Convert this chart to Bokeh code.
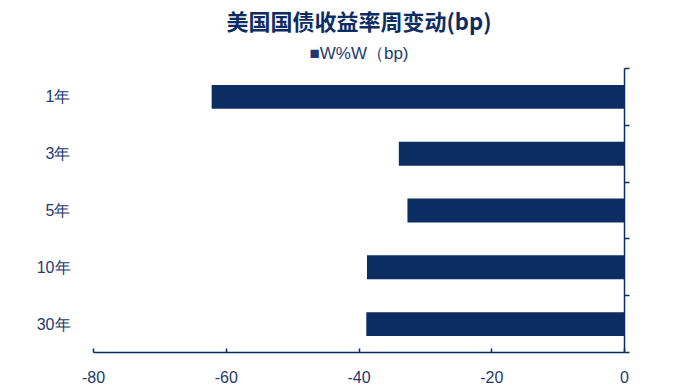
from bokeh.plotting import figure
from bokeh.models import (Range1d, LinearAxis, FixedTicker, Title, ColumnDataSource)
from bokeh.embed import file_html
from bokeh.resources import INLINE

title_text = "美国国债收益率周变动(bp)"
series_name = "W%W（bp)"
categories = ["1年", "3年", "5年", "10年", "30年"]
values = [-62.2, -34.0, -32.7, -38.8, -38.9]
x_ticks = [-80, -60, -40, -20, 0]

NAVY = "#0c2d62"
TXT = "#1f3a6e"

n = len(categories)
ypos = [n - i - 0.5 for i in range(n)]
src = ColumnDataSource(dict(y=ypos, val=values))

p = figure(width=665, height=389, output_backend="svg", toolbar_location=None,
           y_range=Range1d(0, n), x_range=Range1d(-80, 0),
           min_border_left=93, min_border_right=41, min_border_top=68,
           min_border_bottom=37)
p.outline_line_color = None
p.grid.grid_line_color = None
p.background_fill_color = "white"

r = p.hbar(y="y", left=0, right="val", height=0.42, source=src,
           fill_color=NAVY, line_color=None)

# bottom axis
xa = p.xaxis[0]
xa.ticker = FixedTicker(ticks=x_ticks)
xa.major_label_overrides = {t: str(t) for t in x_ticks}
xa.axis_line_color = NAVY
xa.axis_line_width = 1.5
xa.major_tick_line_color = NAVY
xa.major_tick_line_width = 1.5
xa.major_tick_in = 4
xa.major_tick_out = 0
xa.minor_tick_line_color = None
xa.major_label_text_color = TXT
xa.major_label_text_font = "Liberation Sans"
xa.major_label_text_font_size = "16px"
xa.major_label_standoff = 18

# left axis: category labels only
ya = p.yaxis[0]
ya.ticker = FixedTicker(ticks=ypos)
ya.major_label_overrides = {y: c for y, c in zip(ypos, categories)}
ya.axis_line_color = None
ya.major_tick_line_color = None
ya.minor_tick_line_color = None
ya.major_label_text_color = TXT
ya.major_label_text_font = "Liberation Sans"
ya.major_label_text_font_size = "16px"
ya.major_label_standoff = 17

# right axis line with ticks at band boundaries
ra = LinearAxis(ticker=FixedTicker(ticks=list(range(n + 1))))
ra.major_label_text_font_size = "0px"
ra.major_label_text_color = None
ra.axis_line_color = NAVY
ra.axis_line_width = 1.5
ra.major_tick_line_color = NAVY
ra.major_tick_line_width = 1.5
ra.major_tick_in = 0
ra.major_tick_out = 5
ra.minor_tick_line_color = None
p.add_layout(ra, "right")

# legend line (closest to frame), then main title
leg = Title(text="■" + series_name, align="center", offset=-4, standoff=11,
            text_font="Liberation Sans", text_font_style="normal",
            text_font_size="17px", text_color=TXT)
p.add_layout(leg, "above")

title = Title(text=title_text, align="center", offset=-17, standoff=2,
              text_font="Noto Sans CJK SC", text_font_style="bold",
              text_font_size="22px", text_color=NAVY)
p.add_layout(title, "above")

open("out.html", "w").write(file_html(p, INLINE))
